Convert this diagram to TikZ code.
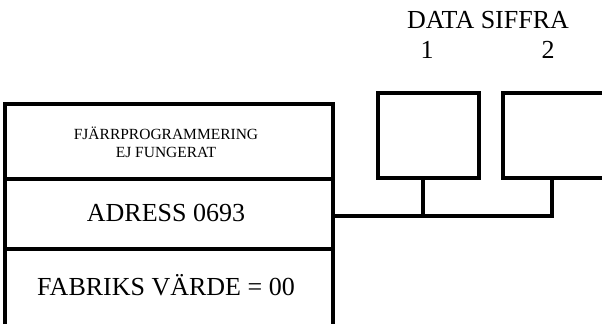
\documentclass[tikz,border=0pt]{standalone}
\usepackage{fontspec}
\setmainfont{Liberation Serif}
\begin{document}
\begin{tikzpicture}[x=1pt,y=-1pt,
  ln/.style={line width=3.2pt},
  big/.style={font=\fontsize{26}{28}\selectfont, inner sep=0pt},
  small/.style={font=\fontsize{15.5}{18}\selectfont, inner sep=0pt, align=center}]
\useasboundingbox (0,0) rectangle (602,324);
% left box
\draw[ln] (5,324) -- (5,104) -- (333,104) -- (333,324);
\draw[ln] (5,179) -- (333,179);
\draw[ln] (5,249) -- (333,249);
\node[small] (t1) at (166,142) {FJÄRRPROGRAMMERING\\EJ FUNGERAT};
\node[big] (t2) at (166,213) {ADRESS 0693};
\node[big] (t3) at (166,285) {FABRIKS VÄRDE = 00};
% data boxes
\draw[ln] (378,93) rectangle (479,178);
\coordinate (b1) at (423,178);
\draw[ln] (602,93) -- (503,93) -- (503,178) -- (602,178);
\coordinate (b2) at (552,178);
\coordinate (j) at (333,216);
\draw[ln] (j) -- (552,216) -- (b2);
\draw[ln] (b1) -- (423,216);
\node[big] (h) at (488,20) {DATA SIFFRA};
\node[big] (n1) at (427,50) {1};
\node[big] (n2) at (548,50) {2};
\end{tikzpicture}
\end{document}
